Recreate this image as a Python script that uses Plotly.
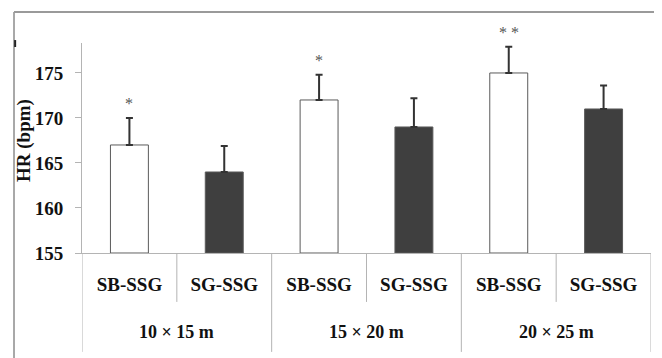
import plotly.graph_objects as go

groups = ["10 × 15 m", "15 × 20 m", "20 × 25 m"]
conditions = ["SB-SSG", "SG-SSG"]
hr_mean = [167, 164, 172, 169, 175, 171]
hr_sd = [3.0, 2.9, 2.8, 3.2, 2.9, 2.6]
sig = ["*", "", "*", "", "* *", ""]
y_ticks = [155, 160, 165, 170, 175]

FONT = "Liberation Serif, Times New Roman, serif"
AX = "#b4b4b4"

xs = list(range(len(hr_mean)))
labels = [conditions[i % 2] for i in xs]
fills = ["#ffffff" if i % 2 == 0 else "#3f3f3f" for i in xs]

fig = go.Figure()
fig.add_trace(go.Bar(
    x=xs, y=[v - 155 for v in hr_mean], base=155,
    width=0.4,
    marker=dict(color=fills, line=dict(color="#5a5a5a", width=1)),
    error_y=dict(type="data", symmetric=False, array=hr_sd,
                 arrayminus=[0] * len(hr_sd), color="#333333",
                 thickness=2, width=3.5),
    showlegend=False,
))

# significance marks
for i, s in enumerate(sig):
    if s:
        fig.add_annotation(x=xs[i], y=hr_mean[i] + hr_sd[i], text=s,
                           showarrow=False, yanchor="bottom", yshift=4,
                           font=dict(family=FONT, size=16, color="#555555"))

# group labels
for g, name in enumerate(groups):
    fig.add_annotation(x=2 * g + 0.5, y=-0.376, xref="x", yref="paper",
                       text=name, showarrow=False, yanchor="middle",
                       font=dict(family=FONT, size=18, color="#111", weight="bold"))

# dividers below the axis
for k in range(len(xs) + 1):
    long = (k % 2 == 0)
    fig.add_shape(type="line", xref="x", yref="paper",
                  x0=k - 0.5, x1=k - 0.5, y0=0, y1=-0.471 if long else -0.233,
                  line=dict(color=AX, width=1))

# outer frame fragments
fig.add_shape(type="line", xref="paper", yref="paper",
              x0=-0.1195, x1=-0.1195, y0=1.1476, y1=-0.55,
              line=dict(color="#8c8c8c", width=1.5))
fig.add_shape(type="line", xref="paper", yref="paper",
              x0=-0.1195, x1=1.03, y0=1.1476, y1=1.1476,
              line=dict(color="#9a9a9a", width=2))
fig.add_shape(type="line", xref="paper", yref="paper",
              x0=-0.1175, x1=-0.1175, y0=1.014, y1=0.981,
              line=dict(color="#222", width=2))

# y title
fig.add_annotation(x=(24 - 82) / 569, y=(253 - 141) / 210, xref="paper", yref="paper",
                   text="HR (bpm)", textangle=-90, showarrow=False,
                   xanchor="center", yanchor="middle",
                   font=dict(family=FONT, size=19, color="#111", weight="bold"))

fig.update_layout(
    width=654, height=350,
    margin=dict(l=74, r=11, t=35, b=105),
    paper_bgcolor="white", plot_bgcolor="white",
    bargap=0.6,
    xaxis=dict(range=[-0.5, 5.5], tickvals=xs, ticktext=labels,
               showline=True, linecolor=AX, linewidth=1,
               ticks="outside", ticklen=14, tickcolor="rgba(0,0,0,0)",
               showgrid=False, zeroline=False,
               tickfont=dict(family=FONT, size=19, color="#111", weight="bold")),
    yaxis=dict(range=[155, 178.33], tickvals=y_ticks,
               showline=True, linecolor=AX, linewidth=1,
               ticks="outside", ticklen=6, tickcolor=AX,
               ticklabelstandoff=8,
               showgrid=False, zeroline=False,
               tickfont=dict(family=FONT, size=19, color="#111", weight="bold")),
)

fig.write_html("out.html")
